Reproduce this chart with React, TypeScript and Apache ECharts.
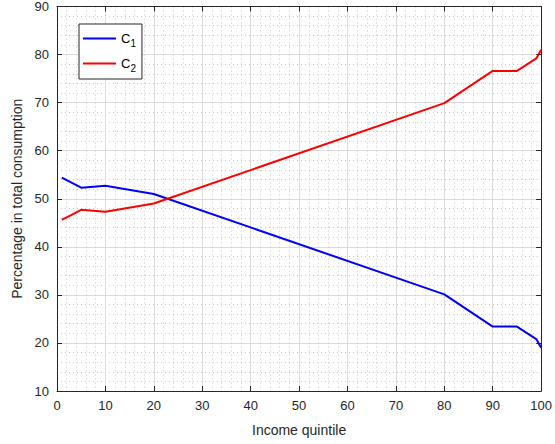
import React, { useEffect, useRef } from "react";
import * as echarts from "echarts";

const quintiles = [1, 5, 10, 20, 80, 90, 95, 99, 100];
const c1Values = [54.4, 52.3, 52.7, 51.0, 30.1, 23.4, 23.4, 20.8, 19.0];
const c2Values = [45.6, 47.7, 47.3, 49.0, 69.9, 76.6, 76.6, 79.2, 81.0];
const seriesNames = ["C1", "C2"];
const xTitle = "Income quintile";
const yTitle = "Percentage in total consumption";

const AX = "#262626";
const FONT = "Liberation Sans, Arial, Helvetica, sans-serif";

export default function App() {
  const ref = useRef<HTMLDivElement>(null);
  useEffect(() => {
    const chart = echarts.init(ref.current!, null, { renderer: "svg" });
    const gridLine = { show: true, lineStyle: { color: "#dcdcdc", width: 1 } };
    const minorLine = { show: true, lineStyle: { color: "#c8c8c8", width: 1, type: [1, 3] as any } };
    const baseAxis = {
      type: "value" as const,
      axisLine: { show: true, onZero: false, lineStyle: { color: AX, width: 1 } },
      axisTick: { show: true, inside: true, length: 5, lineStyle: { color: AX } },
    };
    chart.setOption({
      animation: false,
      backgroundColor: "#ffffff",
      grid: { left: 57, right: 10, top: 6, bottom: 53, containLabel: false },
      legend: {
        show: true,
        left: 79,
        top: 24,
        orient: "vertical",
        backgroundColor: "#ffffff",
        borderColor: AX,
        borderWidth: 1,
        borderRadius: 0,
        padding: [5, 6, 6, 4],
        icon: "rect",
        itemWidth: 33,
        itemHeight: 2,
        itemGap: 6,
        data: seriesNames,
        formatter: (n: string) => `{c|C}{s|${n.slice(1)}}`,
        textStyle: {
          color: "#000",
          fontFamily: FONT,
          rich: {
            c: { fontSize: 13, fontFamily: FONT, color: "#000", lineHeight: 20, verticalAlign: "middle" },
            s: { fontSize: 10, fontFamily: FONT, color: "#000", padding: [9, 0, 0, 0], lineHeight: 20 },
          },
        },
      },
      xAxis: [
        {
          ...baseAxis,
          min: 0,
          max: 100,
          interval: 10,
          position: "bottom",
          name: xTitle,
          nameLocation: "middle",
          nameGap: 32,
          nameTextStyle: { color: AX, fontSize: 14, fontFamily: FONT },
          axisLabel: { color: AX, fontSize: 13, fontFamily: FONT, margin: 8 },
          splitLine: gridLine,
          minorTick: { show: false, splitNumber: 5 },
          minorSplitLine: minorLine,
        },
        {
          ...baseAxis,
          min: 0,
          max: 100,
          interval: 10,
          position: "top",
          axisLabel: { show: false },
          splitLine: { show: false },
        },
      ],
      yAxis: [
        {
          ...baseAxis,
          min: 10,
          max: 90,
          interval: 10,
          position: "left",
          name: yTitle,
          nameLocation: "middle",
          nameGap: 30,
          nameTextStyle: { color: AX, fontSize: 14, fontFamily: FONT },
          axisLabel: { color: AX, fontSize: 13, fontFamily: FONT, margin: 8 },
          splitLine: gridLine,
          minorTick: { show: false, splitNumber: 5 },
          minorSplitLine: minorLine,
        },
        {
          ...baseAxis,
          min: 10,
          max: 90,
          interval: 10,
          position: "right",
          axisLabel: { show: false },
          splitLine: { show: false },
        },
      ],
      series: [
        {
          name: seriesNames[0],
          type: "line",
          data: quintiles.map((x, i) => [x, c1Values[i]]),
          symbol: "none",
          lineStyle: { color: "#0000ff", width: 2 },
          itemStyle: { color: "#0000ff" },
        },
        {
          name: seriesNames[1],
          type: "line",
          data: quintiles.map((x, i) => [x, c2Values[i]]),
          symbol: "none",
          lineStyle: { color: "#ff0000", width: 2 },
          itemStyle: { color: "#ff0000" },
        },
      ],
    });
    return () => chart.dispose();
  }, []);
  return <div ref={ref} style={{ width: 555, height: 444, position: "absolute", left: 0, top: 0 }} />;
}
